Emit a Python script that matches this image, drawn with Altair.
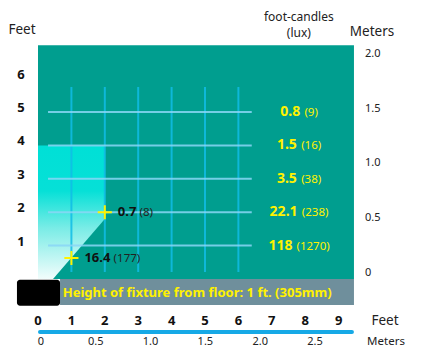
import altair as alt
import pandas as pd

# ---------------- data ----------------
feet_ticks = [0, 1, 2, 3, 4, 5, 6, 7, 8, 9]
height_ticks = [1, 2, 3, 4, 5, 6]
meter_ticks_bottom = [0, 0.5, 1.0, 1.5, 2.0, 2.5]
meter_ticks_right = [0, 0.5, 1.0, 1.5, 2.0]
grid_rows = [1, 2, 3, 4, 5]          # feet above floor
grid_cols = [1, 2, 3, 4, 5, 6]       # feet from wall
row_fc = ["118", "22.1", "3.5", "1.5", "0.8"]
row_lux = ["(1270)", "(238)", "(38)", "(16)", "(9)"]
pt_x = [2.0, 1.0]
pt_y = [2.0, 0.63]
pt_fc = ["0.7", "16.4"]
pt_lux = ["(8)", "(177)"]
beam_x = [0.0, 0.45, 2.0]
beam_bottom = [0.0, 0.0, 1.8]
beam_top = [4.0, 4.0, 4.0]
room_w = 9.46
room_h = 7.0
FT_PER_M = 3.2808
caption = "Height of fixture from floor: 1 ft. (305mm)"

# ---------------- layout ----------------
W, H = 422, 341
PX = 33.4                 # pixels per foot
X0, Y0 = 30, 271          # pixel position of (0 ft, 0 ft) inside the chart
xdom = [-X0 / PX, (W - X0) / PX]
ydom = [(Y0 - H) / PX, Y0 / PX]
FONT = "Noto Sans"
TEAL = "#009E8F"
YELLOW = "#FFF200"

xs = alt.Scale(domain=xdom, nice=False, zero=False)
ys = alt.Scale(domain=ydom, nice=False, zero=False)


def X(f="x"):
    return alt.X(f"{f}:Q", scale=xs, axis=None)


def Y(f="y"):
    return alt.Y(f"{f}:Q", scale=ys, axis=None)


def tw(s, size, bold):
    w = 0.0
    for ch in s:
        if ch.isdigit():
            w += 0.572
        elif ch == ".":
            w += 0.30 if bold else 0.268
        elif ch in "()":
            w += 0.35 if bold else 0.296
        else:
            w += 0.5
    return w * size


# room (teal)
room = alt.Chart(pd.DataFrame({"x": [0.0], "x2": [room_w], "y": [0.0], "y2": [room_h]})).mark_rect(
    color=TEAL).encode(x=X(), x2="x2:Q", y=Y(), y2="y2:Q")

# light beam
beam = alt.Chart(pd.DataFrame({"x": beam_x, "y": beam_top, "y2": beam_bottom})).mark_area(
    color=alt.Gradient(gradient="linear", x1=0, x2=0, y1=0, y2=1, stops=[
        alt.GradientStop(color="#00E0D6", offset=0),
        alt.GradientStop(color="#06E0D7", offset=0.34),
        alt.GradientStop(color="#7AECE6", offset=0.62),
        alt.GradientStop(color="#F2FDFC", offset=1),
    ])).encode(x=X(), y=Y(), y2="y2:Q")

# grid
vgrid = alt.Chart(pd.DataFrame({"x": grid_cols, "y": [0.21] * 6, "y2": [5.75] * 6})).mark_rule(
    color="#10BCE6", strokeWidth=2, opacity=0.85).encode(x=X(), y=Y(), y2="y2:Q")
hgrid = alt.Chart(pd.DataFrame({"y": grid_rows, "x": [0.3] * 5, "x2": [6.4] * 5})).mark_rule(
    color="#8AD6F6", strokeWidth=2, opacity=0.85).encode(x=X(), x2="x2:Q", y=Y())

# floor bar + fixture
bar = alt.Chart(pd.DataFrame({"x": [0.66], "x2": [room_w], "y": [0.0], "y2": [-0.78]})).mark_rect(
    color="#6F8F9C").encode(x=X(), x2="x2:Q", y=Y(), y2="y2:Q")
fixture = alt.Chart(pd.DataFrame({"x": [-0.63], "x2": [0.66], "y": [-0.02], "y2": [-0.80]})).mark_rect(
    color="#000000", cornerRadius=3).encode(x=X(), x2="x2:Q", y=Y(), y2="y2:Q")
cap = alt.Chart(pd.DataFrame({"x": [0.74], "y": [-0.41], "t": [caption]})).mark_text(
    align="left", baseline="middle", font=FONT, fontSize=13, fontWeight="bold", color=YELLOW
).encode(x=X(), y=Y(), text="t:N")

# right-side illuminance labels (centred as a pair)
cx_px = 299 - 38
rows = []
for r, fc, lx in zip(grid_rows, row_fc, row_lux):
    wb, wp = tw(fc, 14, True), tw(lx, 11.5, False)
    start = cx_px - (wb + 4 + wp) / 2
    rows.append({"y": r, "fc": fc, "lux": lx, "xb": start / PX, "xp": (start + wb + 4) / PX})
rdf = pd.DataFrame(rows)
fc_txt = alt.Chart(rdf).mark_text(align="left", baseline="middle", font=FONT, fontSize=14,
                                  fontWeight="bold", color=YELLOW).encode(x=X("xb"), y=Y(), text="fc:N")
lux_txt = alt.Chart(rdf).mark_text(align="left", baseline="middle", font=FONT, fontSize=11.5,
                                   color=YELLOW, dy=1).encode(x=X("xp"), y=Y(), text="lux:N")

# measurement points
prow = []
for x, y, fc, lx in zip(pt_x, pt_y, pt_fc, pt_lux):
    wb = tw(fc, 13, True)
    prow.append({"x": x, "y": y, "fc": fc, "lux": lx, "xb": x + 13 / PX, "xp": x + (13 + wb + 3) / PX})
pdf = pd.DataFrame(prow)
cross = alt.Chart(pdf).mark_point(shape="M-1,0H1M0,-1V1", size=200, filled=False,
                                  stroke=YELLOW, strokeWidth=2, opacity=1).encode(x=X(), y=Y())
pfc = alt.Chart(pdf).mark_text(align="left", baseline="middle", font=FONT, fontSize=13,
                               fontWeight="bold", color="#111111").encode(x=X("xb"), y=Y(), text="fc:N")
plux = alt.Chart(pdf).mark_text(align="left", baseline="middle", font=FONT, fontSize=11.5,
                                color="#222222", dy=1).encode(x=X("xp"), y=Y(), text="lux:N")

# left height labels
left = alt.Chart(pd.DataFrame({"y": height_ticks, "x": [-0.51] * 6, "t": [str(v) for v in height_ticks]})).mark_text(
    align="center", baseline="middle", font=FONT, fontSize=13, fontWeight="bold", color="#111111", dy=-4
).encode(x=X(), y=Y(), text="t:N")

# right meter labels
right = alt.Chart(pd.DataFrame({"y": [m * FT_PER_M for m in meter_ticks_right], "x": [9.79] * 5,
                                "t": [("%.1f" % m) if m else "0" for m in meter_ticks_right]})).mark_text(
    align="left", baseline="middle", font=FONT, fontSize=11, color="#222222", dy=-6
).encode(x=X(), y=Y(), text="t:N")

# bottom feet labels
bfeet = alt.Chart(pd.DataFrame({"x": feet_ticks, "y": [-1.257] * 10, "t": [str(v) for v in feet_ticks]})).mark_text(
    align="center", baseline="middle", font=FONT, fontSize=13, fontWeight="bold", color="#111111"
).encode(x=X(), y=Y(), text="t:N")
brule = alt.Chart(pd.DataFrame({"x": [0.06], "x2": [9.4], "y": [-1.587]})).mark_rule(
    color="#16A9E6", strokeWidth=4, strokeCap="round").encode(x=X(), x2="x2:Q", y=Y())
bmet = alt.Chart(pd.DataFrame({"x": [m * FT_PER_M for m in meter_ticks_bottom], "y": [-1.90] * 6,
                               "t": [("%.1f" % m) if m else "0" for m in meter_ticks_bottom]})).mark_text(
    align="center", baseline="middle", font=FONT, fontSize=11, color="#222222", dx=3
).encode(x=X(), y=Y(), text="t:N")

# titles
titles = alt.Chart(pd.DataFrame({
    "x": [-0.48, 7.81, 7.81, 10.0, 10.39, 10.42],
    "y": [7.46, 7.85, 7.38, 7.40, -1.257, -1.90],
    "t": ["Feet", "foot-candles", "(lux)", "Meters", "Feet", "Meters"],
    "s": [13.5, 12, 12, 13.5, 13.5, 11.5],
})).mark_text(align="center", baseline="middle", font=FONT, color="#222222").encode(
    x=X(), y=Y(), text="t:N", size=alt.Size("s:Q", scale=None, legend=None))

chart = alt.layer(room, beam, vgrid, hgrid, bar, fixture, cap, fc_txt, lux_txt, cross, pfc, plux,
                  left, right, bfeet, brule, bmet, titles).properties(
    width=W, height=H, autosize=alt.AutoSizeParams(type="none"), padding=0
).configure_view(stroke=None)

chart.save("out.html", embed_options={"renderer": "svg", "actions": False})
